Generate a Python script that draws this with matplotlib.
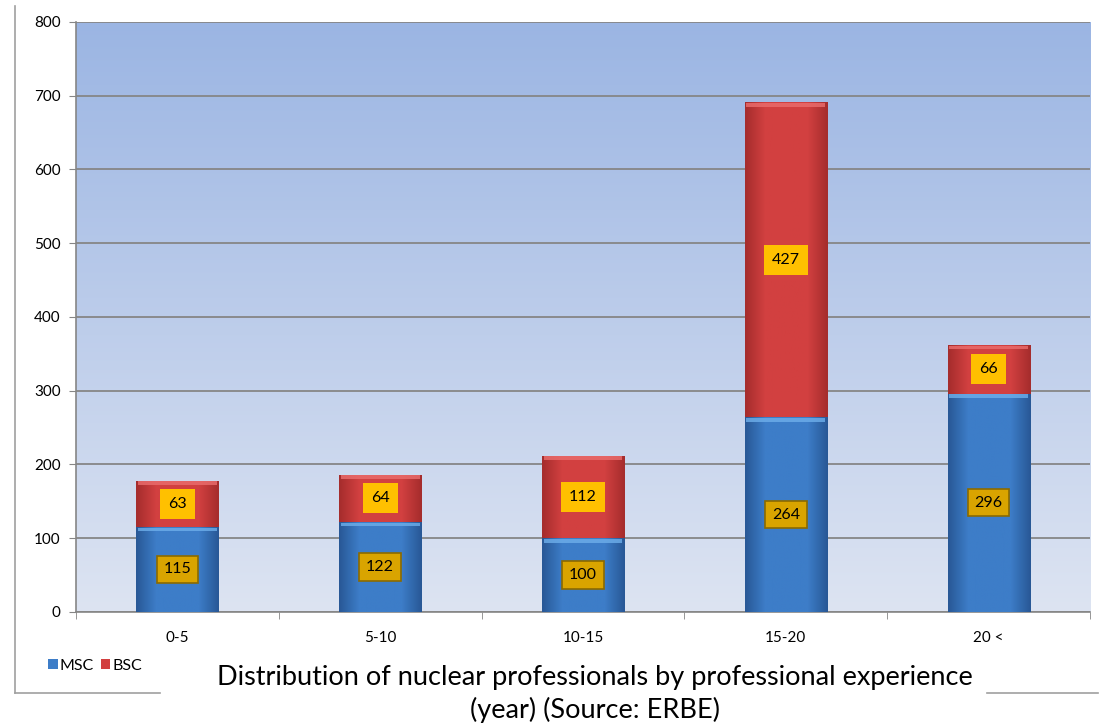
import matplotlib
matplotlib.use('Agg')
import matplotlib.pyplot as plt
import numpy as np
from matplotlib.lines import Line2D
from matplotlib.patches import Patch

# 数据
categories = ['0-5', '5-10', '10-15', '15-20', '20 <']
msc = [115, 122, 100, 264, 296]
bsc = [63, 64, 112, 427, 66]
y_ticks = [0, 100, 200, 300, 400, 500, 600, 700, 800]
title_text = 'Distribution of nuclear professionals by professional experience\n(year) (Source: ERBE)'

plt.rcParams['font.family'] = ['Lato', 'DejaVu Sans']

fig = plt.figure(figsize=(11.01, 7.25), dpi=100)
ax = fig.add_axes([0.069, 0.156, 0.921, 0.814])

# 背景渐变
grad = np.linspace(0, 1, 256).reshape(-1, 1)
top_c = np.array([155, 181, 227]) / 255
bot_c = np.array([221, 228, 242]) / 255
bg = top_c * (1 - grad[:, :, None]) + bot_c * grad[:, :, None]
ax.imshow(bg, extent=[-0.5, 4.5, 0, 800], aspect='auto', zorder=0, origin='upper')

x = np.arange(len(categories))
width = 0.405


def shaded_bar(xc, bottom, height, base, dark, light):
    # 柱子横向渐变, 做一点立体感
    bars = ax.bar(xc, height, width, bottom=bottom, color=base, edgecolor='none', zorder=3)
    p = bars[0]
    row = np.concatenate([np.linspace(0, 1, 20), np.ones(40), np.linspace(1, 0, 20)])
    img = dark * (1 - row[None, :, None]) + base * row[None, :, None]
    im = ax.imshow(img, extent=[xc - width / 2, xc + width / 2, bottom, bottom + height],
                   aspect='auto', zorder=3.1, origin='upper')
    im.set_clip_path(p)
    # 顶部高光
    ax.bar(xc, 5, width * 0.96, bottom=bottom + height - 6, color=light, alpha=0.8,
           edgecolor='none', zorder=3.2)
    return bars


blue = np.array([61, 125, 200]) / 255
blue_dark = np.array([40, 88, 150]) / 255
blue_light = np.array([110, 175, 235]) / 255
red = np.array([210, 64, 64]) / 255
red_dark = np.array([165, 45, 45]) / 255
red_light = np.array([235, 110, 110]) / 255

for i in range(len(categories)):
    shaded_bar(x[i], 0, msc[i], blue, blue_dark, blue_light)
    shaded_bar(x[i], msc[i], bsc[i], red, red_dark, red_light)

# 数据标签
for i in range(len(categories)):
    ax.text(x[i], msc[i] / 2, str(msc[i]), ha='center', va='center', fontsize=11.5, zorder=5,
            bbox=dict(boxstyle='square,pad=0.42', facecolor='#D9A400', edgecolor='#8A6A00', linewidth=1.2))
    ax.text(x[i], msc[i] + bsc[i] / 2, str(bsc[i]), ha='center', va='center', fontsize=11.5, zorder=5,
            bbox=dict(boxstyle='square,pad=0.5', facecolor='#FFC000', edgecolor='none'))

ax.set_xlim(-0.5, 4.5)
ax.set_ylim(0, 800)
ax.set_yticks(y_ticks)
ax.yaxis.grid(True, color='#868686', linewidth=1.3, zorder=1)
ax.set_axisbelow(True)
ax.set_xticks(x)
ax.set_xticklabels(categories, fontsize=11)
ax.set_xticks(np.arange(-0.5, 5, 1), minor=True)
ax.tick_params(axis='x', which='major', length=0, pad=14)
ax.tick_params(axis='x', which='minor', length=5, color='#868686', direction='out')
ax.tick_params(axis='y', length=5, color='#868686', labelsize=11, pad=6)
for s in ['top', 'right']:
    ax.spines[s].set_visible(False)
for s in ['left', 'bottom']:
    ax.spines[s].set_color('#868686')
    ax.spines[s].set_linewidth(1.2)

# 外框线
W, H = 1101, 725
fig.add_artist(Line2D([15 / W, 15 / W], [1 - 6 / H, 1 - 693 / H], color='#A0A0A0', linewidth=1.2))
fig.add_artist(Line2D([15 / W, 160 / W], [1 - 693 / H, 1 - 693 / H], color='#A0A0A0', linewidth=1.2))
fig.add_artist(Line2D([987 / W, 1098 / W], [1 - 693 / H, 1 - 693 / H], color='#A0A0A0', linewidth=1.2))

# 图例
handles = [Patch(facecolor=blue, edgecolor='none', label='MSC'),
           Patch(facecolor=red, edgecolor='none', label='BSC')]
fig.legend(handles=handles, loc='center left', bbox_to_anchor=(48 / W, 1 - 666 / H), ncol=2,
           frameon=False, fontsize=11.5, handlelength=0.6, handleheight=0.6,
           handletextpad=0.15, columnspacing=0.4, borderaxespad=0, borderpad=0)

fig.text(595 / W, 1 - 694 / H, title_text, ha='center', va='center', fontsize=19.5,
         linespacing=1.3, bbox=dict(facecolor='white', edgecolor='none', pad=2))

fig.savefig('out.png', dpi=100)
